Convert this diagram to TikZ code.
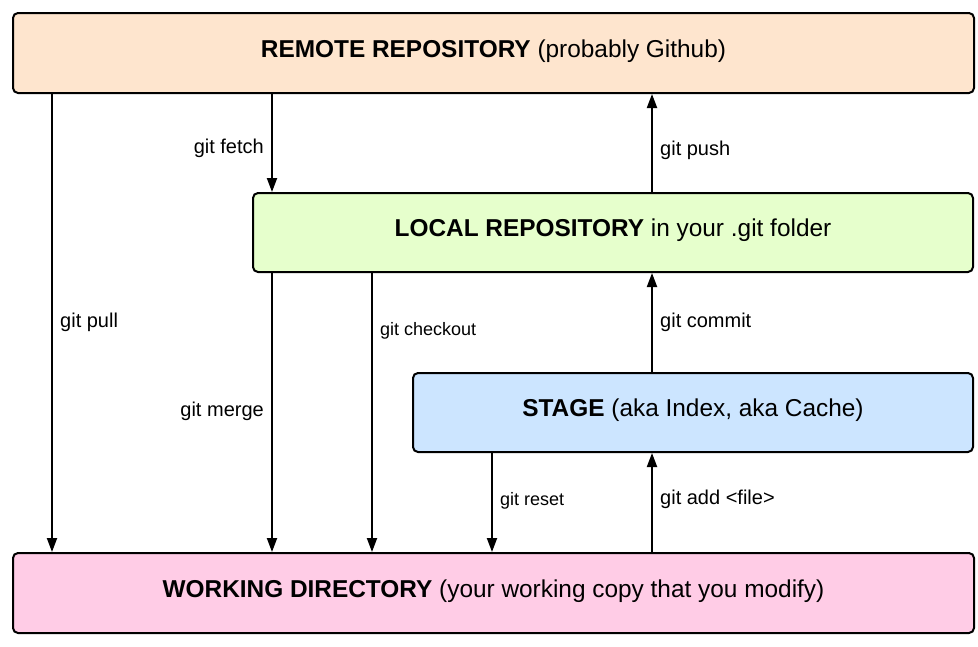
\documentclass[tikz,border=0pt]{standalone}
\usepackage{fontspec}
\setmainfont{Liberation Sans}
\usetikzlibrary{arrows.meta}
\definecolor{cremote}{RGB}{254,229,206}
\definecolor{clocal}{RGB}{230,255,204}
\definecolor{cstage}{RGB}{204,229,255}
\definecolor{cwork}{RGB}{255,204,230}
\tikzset{
  box/.style={draw=black, line width=2pt, rounded corners=5pt, anchor=north west,
    inner sep=0pt, text height=18pt, text depth=10pt, font=\fontsize{24.4}{28}\selectfont},
  flow/.style={line width=2pt, -{Triangle[length=14pt,width=10pt]}},
  lbl/.style={font=\fontsize{20}{24}\selectfont, inner sep=0pt},
  slbl/.style={font=\fontsize{18}{22}\selectfont, inner sep=0pt},
}
\begin{document}
\begin{tikzpicture}[x=1pt,y=-1pt]
\useasboundingbox (0,0) rectangle (978,646);
\node[box, fill=cremote, minimum width=961pt, minimum height=80pt] (remote) at (12,12)
  {\textbf{REMOTE REPOSITORY} (probably Github)};
\node[box, fill=clocal, minimum width=720pt, minimum height=79pt] (local) at (252,192)
  {\textbf{LOCAL REPOSITORY} in your .git folder};
\node[box, fill=cstage, minimum width=560pt, minimum height=79pt] (stage) at (412,372)
  {\textbf{STAGE} (aka Index, aka Cache)};
\node[box, fill=cwork, minimum width=961pt, minimum height=80pt] (work) at (12,552)
  {\textbf{WORKING DIRECTORY} (your working copy that you modify)};

\coordinate (xpull) at (52,0);
\coordinate (xfetch) at (272,0);
\coordinate (xcheck) at (372,0);
\coordinate (xreset) at (492,0);
\coordinate (xpush) at (652,0);

\draw[flow] (remote.south -| xpull) -- (work.north -| xpull);
\draw[flow] (remote.south -| xfetch) -- (local.north -| xfetch);
\draw[flow] (local.north -| xpush) -- (remote.south -| xpush);
\draw[flow] (local.south -| xfetch) -- (work.north -| xfetch);
\draw[flow] (local.south -| xcheck) -- (work.north -| xcheck);
\draw[flow] (stage.north -| xpush) -- (local.south -| xpush);
\draw[flow] (stage.south -| xreset) -- (work.north -| xreset);
\draw[flow] (work.north -| xpush) -- (stage.south -| xpush);

\node[lbl, anchor=base east] (lfetch) at (264,153) {git fetch};
\node[lbl, anchor=base west] (lpush) at (660,155) {git push};
\node[lbl, anchor=base west] (lpull) at (60,327) {git pull};
\node[lbl, anchor=base east] (lmerge) at (264,416) {git merge};
\node[slbl, anchor=base west] (lcheck) at (380,335) {git checkout};
\node[lbl, anchor=base west] (lcommit) at (660,327) {git commit};
\node[slbl, anchor=base west] (lreset) at (500,505) {git reset};
\node[lbl, anchor=base west] (ladd) at (660,504) {git add <file>};
\end{tikzpicture}
\end{document}
